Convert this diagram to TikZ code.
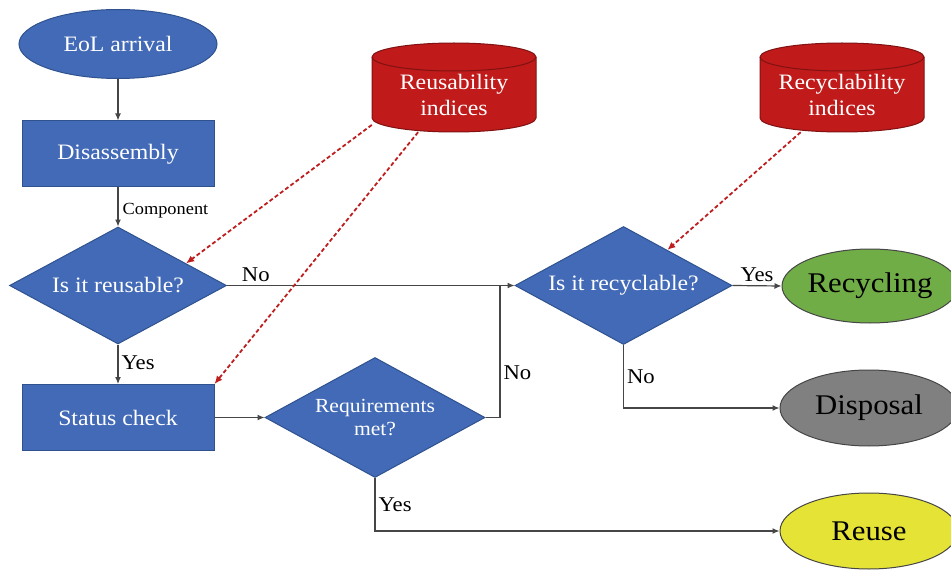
\documentclass[tikz,border=0pt]{standalone}
\usepackage{fontspec}
\setmainfont{Liberation Serif}[FakeStretch=1.08]
\usetikzlibrary{shapes.geometric,arrows.meta,calc}
\definecolor{fblue}{RGB}{66,106,183}
\definecolor{bblue}{RGB}{47,82,143}
\definecolor{fred}{RGB}{192,26,26}
\definecolor{bred}{RGB}{128,18,18}
\definecolor{dred}{RGB}{190,30,30}
\definecolor{fgreen}{RGB}{112,173,71}
\definecolor{fgray}{RGB}{128,128,128}
\definecolor{fyellow}{RGB}{230,227,55}
\definecolor{lgray}{RGB}{70,70,70}
\newcommand\mycyl[1]{%
  \filldraw[fill=fred,draw=bred,line width=1pt] (#1-82,-57) -- (#1-82,-118)
    arc[start angle=180,end angle=360,x radius=82,y radius=14] -- (#1+82,-57)
    arc[start angle=0,end angle=180,x radius=82,y radius=14] -- cycle;
  \draw[draw=bred,line width=1pt] (#1-82,-57) arc[start angle=180,end angle=360,x radius=82,y radius=14];}
\begin{document}
\begin{tikzpicture}[x=1pt,y=1pt,
  bluebox/.style={draw=bblue, line width=1pt, fill=fblue, text=white,
    font=\fontsize{22}{26}\selectfont, inner sep=0pt},
  endnode/.style={ellipse, draw=lgray, line width=1pt, text=black,
    font=\fontsize{28.5}{32}\selectfont, inner sep=0pt, minimum width=178pt, minimum height=76pt},
  cyltext/.style={rectangle, text=white, align=center, inner sep=0pt,
    font=\fontsize{22}{26}\selectfont, minimum width=164pt, minimum height=74pt},
  plainline/.style={draw=lgray, line width=1.2pt},
  conn/.style={plainline, -{Latex[length=7pt,width=6pt]}},
  dasharrow/.style={draw=dred, line width=1.8pt, dash pattern=on 4pt off 2.5pt,
    -{Latex[length=8pt,width=7pt]}},
  lbl/.style={text=black, font=\fontsize{21}{24}\selectfont, inner sep=3pt}]
\useasboundingbox (0,0) rectangle (951,-575);
\fill[white] (0,0) rectangle (951,-575);

% cylinders
\mycyl{454}
\mycyl{842}
\node[cyltext] (ri) at (454,-95) {Reusability\\indices};
\node[cyltext] (rci) at (842,-95) {Recyclability\\indices};

% blue nodes
\node[bluebox, ellipse, minimum width=198pt, minimum height=69pt] (eol) at (118,-44) {EoL arrival};
\node[bluebox, rectangle, minimum width=192pt, minimum height=66pt] (dis) at (118,-154) {Disassembly};
\node[bluebox, diamond, aspect=1.85, minimum width=217pt, minimum height=117pt] (reu) at (118,-285.5) {Is it reusable?};
\node[bluebox, rectangle, minimum width=192pt, minimum height=66pt] (sc) at (118,-417.5) {Status check};
\node[bluebox, diamond, aspect=1.83, minimum width=220pt, minimum height=120pt, align=center,
  font=\fontsize{20}{23}\selectfont] (req) at (375,-417.5) {Requirements\\met?};
\node[bluebox, diamond, aspect=1.84, minimum width=217pt, minimum height=118pt] (rec) at (623.5,-285.5) {Is it recyclable?};

% end nodes
\node[endnode, fill=fgreen, minimum width=176pt, minimum height=74pt] (recy) at (870,-286) {\makebox[0pt]{Recycling}};
\node[endnode, fill=fgray] (disp) at (869,-408) {\makebox[0pt]{Disposal}};
\node[endnode, fill=fyellow] (reuse) at (869,-531) {\makebox[0pt]{Reuse}};

\coordinate (jx) at (500,-285.5);

% connectors
\draw[conn] (eol.south) -- (dis.north);
\draw[conn] (dis.south) -- node[lbl, right, pos=0.6, font=\fontsize{17}{20}\selectfont, inner sep=4pt] {Component} (reu.north);
\draw[conn] (reu.south) -- node[lbl, right, pos=0.45] {Yes} (sc.north);
\draw[conn] (sc.east) -- (req.west);
\draw[conn] (reu.east) -- node[lbl, above, pos=0.1] {No} (rec.west);
\draw[plainline] (req.east) -| node[lbl, right, pos=0.67] {No} (jx);
\draw[conn] (rec.east) -- node[lbl, above] {Yes} (recy.west);
\draw[conn] (rec.south) |- node[lbl, right, pos=0.25] {No} (disp.west);
\draw[conn] (req.south) |- node[lbl, right, pos=0.25] {Yes} (reuse.west);

% dashed
\draw[dasharrow] (ri.200.6) -- (reu.18.9);
\draw[dasharrow] (ri.226.6) -- (sc.north east);
\draw[dasharrow] (rci.222) -- (rec.39);
\end{tikzpicture}
\end{document}
